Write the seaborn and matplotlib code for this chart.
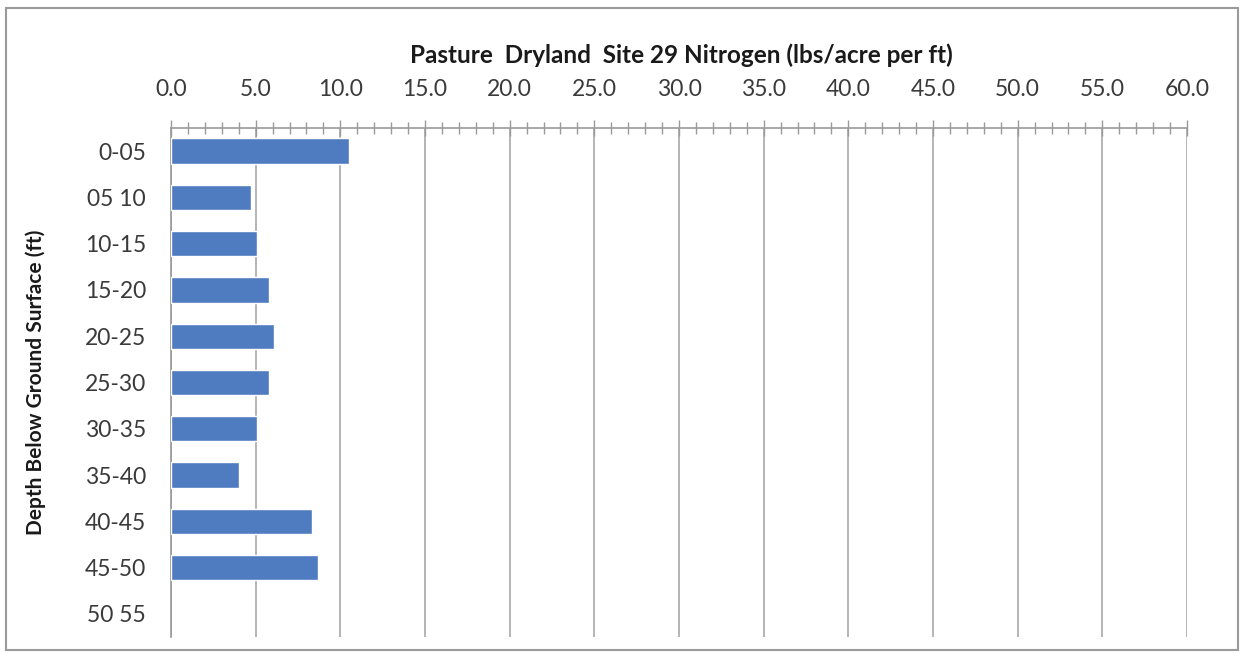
import seaborn as sns
import pandas as pd
import matplotlib.pyplot as plt
from matplotlib.patches import Rectangle
from matplotlib.ticker import MultipleLocator, FormatStrFormatter

# depth intervals and nitrogen values
depths = ['0-05', '05 10', '10-15', '15-20', '20-25', '25-30',
          '30-35', '35-40', '40-45', '45-50', '50 55']
nitrogen = [10.5, 4.7, 5.1, 5.8, 6.1, 5.8, 5.1, 4.0, 8.3, 8.7, None]

df = pd.DataFrame({'Depth': depths, 'Nitrogen': nitrogen})

sns.set_style('white')
plt.rcParams['font.family'] = ['Lato', 'DejaVu Sans']

fig = plt.figure(figsize=(12.42, 6.56), dpi=100)
W, H = 1242, 656
ax = fig.add_axes([171 / W, 1 - 637 / H, (1187 - 171) / W, (637 - 128) / H])

sns.barplot(data=df, x='Nitrogen', y='Depth', order=depths, color='#4F7CC0',
            width=0.55, saturation=1, ax=ax, zorder=3)

ax.set_xlim(0, 60)
ax.set_ylim(len(depths) - 0.5, -0.5)
ax.xaxis.set_major_locator(MultipleLocator(5))
ax.xaxis.set_minor_locator(MultipleLocator(1))
ax.xaxis.set_major_formatter(FormatStrFormatter('%.1f'))
ax.xaxis.tick_top()
ax.tick_params(axis='x', which='major', direction='inout', length=12, width=1,
               color='#9a9a9a', labelsize=16.5, labelcolor='#3a3a3a', pad=14)
ax.tick_params(axis='x', which='minor', direction='inout', length=9, width=1,
               color='#9a9a9a')
ax.tick_params(axis='y', length=0, labelsize=16.5, labelcolor='#3a3a3a', pad=18)
ax.grid(axis='x', which='major', color='#a8a8a8', linewidth=1.2, zorder=0)

for side in ['right', 'bottom']:
    ax.spines[side].set_visible(False)
for side in ['top', 'left']:
    ax.spines[side].set_color('#9a9a9a')
    ax.spines[side].set_linewidth(1.2)

ax.set_xlabel('')
ax.set_ylabel('Depth Below Ground Surface (ft)', fontsize=15, fontweight='bold',
              color='#1a1a1a')
ax.yaxis.set_label_coords((46 - 171) / (1187 - 171), 0.5)
fig.text(681 / W, 1 - 55 / H,
         'Pasture  Dryland  Site 29 Nitrogen (lbs/acre per ft)',
         ha='center', va='center', fontsize=17.5, fontweight='bold', color='#1a1a1a')

# outer chart frame
fig.patches.append(Rectangle((6 / W, 1 - 650 / H), (1238 - 6) / W, (650 - 8) / H,
                             transform=fig.transFigure, fill=False,
                             edgecolor='#9a9a9a', linewidth=1.5))

fig.savefig('out.png', dpi=100)
